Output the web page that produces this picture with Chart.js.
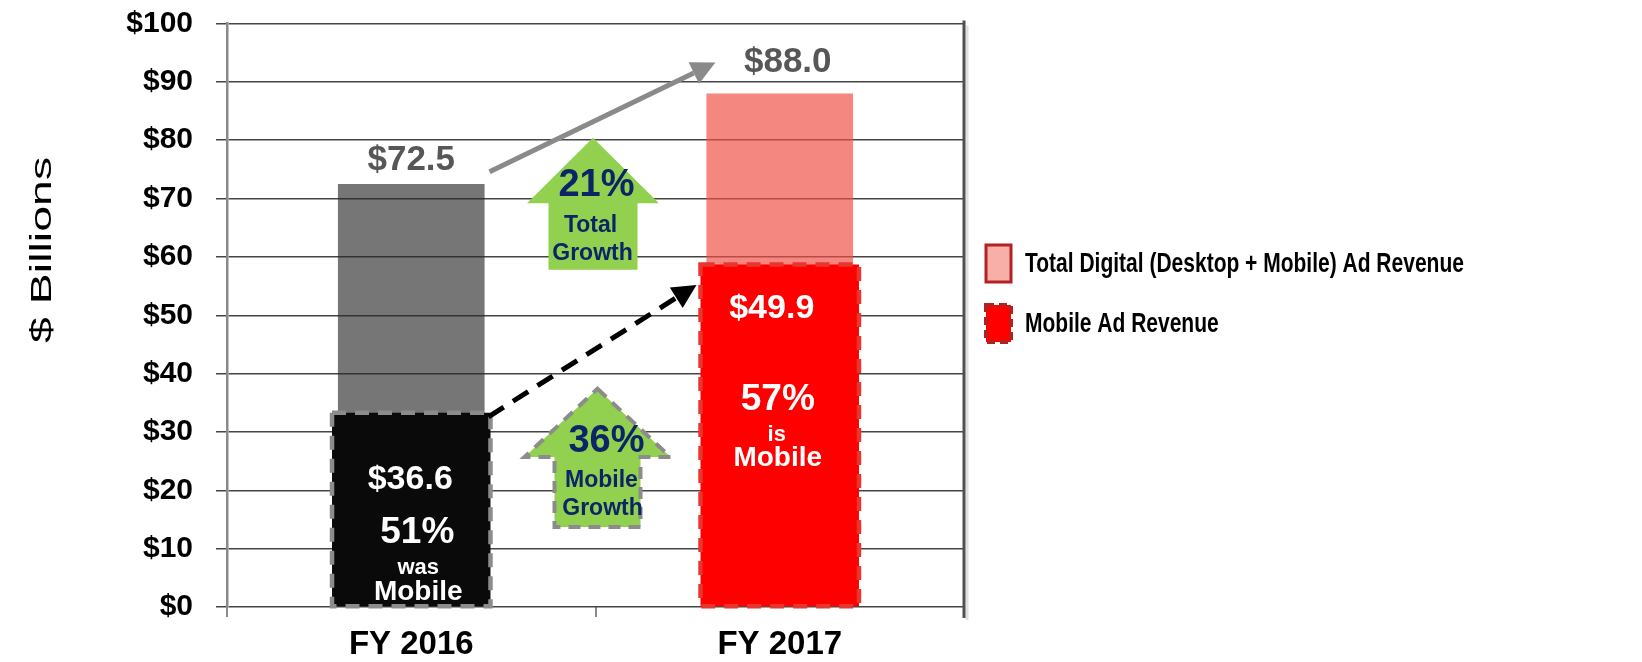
<!DOCTYPE html>
<html>
<head>
<meta charset="utf-8">
<title>Digital Ad Revenue</title>
<script src="https://cdn.jsdelivr.net/npm/chart.js@4.4.1/dist/chart.umd.min.js"></script>
<style>
html, body { margin: 0; padding: 0; background: #fff; }
#wrap { position: relative; width: 1642px; height: 662px; }
</style>
</head>
<body>
<div id="wrap"><canvas id="chart" width="1642" height="662"></canvas></div>
<script>
// values
var categories = ['FY 2016', 'FY 2017'];
var totalRevenue = [72.5, 88.0];
var mobileBoxHeight = [33.3, 58.7];   // mobile boxes as drawn in the original
var totalLabels = ['$72.5', '$88.0'];
var mobileLabels = ['$36.6', '$49.9'];
var mobileShare = ['51%', '57%'];
var shareWord = ['was', 'is'];
var growthPct = ['21%', '36%'];
var growthWord = ['Total', 'Mobile'];
var seriesNames = ['Total Digital (Desktop + Mobile) Ad Revenue', 'Mobile Ad Revenue'];

var FONT = '"Liberation Sans", Arial, Helvetica, sans-serif';
var NAVY = '#0b2566';
var GREEN = '#92d050';

var mobileFill = ['#0a0a0a', '#ff0000'];
var mobileEdge = ['#8c8c8c', '#e8352d'];
var totalFill = ['rgba(40,40,40,0.64)', 'rgba(239,80,70,0.68)'];

function text(ctx, str, x, y, size, color, weight, sx) {
	ctx.save();
	ctx.font = (weight || 'bold') + ' ' + size + 'px ' + FONT;
	ctx.fillStyle = color;
	ctx.textAlign = 'center';
	ctx.textBaseline = 'middle';
	ctx.translate(x, y);
	if (sx) ctx.scale(sx, 1);
	ctx.fillText(str, 0, 0);
	ctx.restore();
}

function upArrow(ctx, cx, tipY, neckY, bottomY, headHalf, shaftHalf) {
	ctx.beginPath();
	ctx.moveTo(cx, tipY);
	ctx.lineTo(cx + headHalf, neckY);
	ctx.lineTo(cx + shaftHalf, neckY);
	ctx.lineTo(cx + shaftHalf, bottomY);
	ctx.lineTo(cx - shaftHalf, bottomY);
	ctx.lineTo(cx - shaftHalf, neckY);
	ctx.lineTo(cx - headHalf, neckY);
	ctx.closePath();
}

function lineArrow(ctx, x0, y0, x1, y1, color, width, dash) {
	var ang = Math.atan2(y1 - y0, x1 - x0), head = 24, half = 12;
	var bx = x1 - head * Math.cos(ang), by = y1 - head * Math.sin(ang);
	ctx.save();
	ctx.strokeStyle = color;
	ctx.lineWidth = width;
	ctx.setLineDash(dash || []);
	ctx.beginPath();
	ctx.moveTo(x0, y0);
	ctx.lineTo(bx, by);
	ctx.stroke();
	ctx.setLineDash([]);
	ctx.fillStyle = color;
	ctx.beginPath();
	ctx.moveTo(x1, y1);
	ctx.lineTo(bx + half * Math.sin(ang), by - half * Math.cos(ang));
	ctx.lineTo(bx - half * Math.sin(ang), by + half * Math.cos(ang));
	ctx.closePath();
	ctx.fill();
	ctx.restore();
}

var annotations = {
	id: 'annotations',
	beforeDatasetsDraw: function (chart) {
		// right frame of the plot
		var ctx = chart.ctx, a = chart.chartArea;
		ctx.save();
		ctx.strokeStyle = 'rgba(0,0,0,0.12)';
		ctx.lineWidth = 3;
		ctx.beginPath();
		ctx.moveTo(a.right + 3, a.top + 2);
		ctx.lineTo(a.right + 3, a.bottom + 13);
		ctx.stroke();
		ctx.strokeStyle = '#505050';
		ctx.lineWidth = 3;
		ctx.beginPath();
		ctx.moveTo(a.right, a.top - 3);
		ctx.lineTo(a.right, a.bottom + 11);
		ctx.stroke();
		ctx.restore();
	},
	afterDatasetsDraw: function (chart) {
		var ctx = chart.ctx, ys = chart.scales.y, a = chart.chartArea;
		var mob = chart.getDatasetMeta(0).data;
		var tot = chart.getDatasetMeta(1).data;

		// dashed outline of the mobile boxes
		mob.forEach(function (bar, i) {
			var l = bar.x - bar.width / 2;
			ctx.save();
			ctx.setLineDash([14, 9]);
			ctx.lineWidth = 4.5;
			ctx.strokeStyle = mobileEdge[i];
			ctx.strokeRect(l, bar.y, bar.width, bar.base - bar.y);
			ctx.restore();
		});

		// totals above the bars
		var topShift = [[0, -24], [8, -31]];
		tot.forEach(function (bar, i) {
			text(ctx, totalLabels[i], bar.x + topShift[i][0], bar.y + topShift[i][1], 35, '#575757');
		});

		// texts inside the mobile boxes
		var inner = [
			{ dx: [-1, 6, 7, 7], v: [21.8, 12.7, 6.7, 2.6] },
			{ dx: [-8, -2, -3, -2], v: [51.2, 35.5, 29.5, 25.5] }
		];
		mob.forEach(function (bar, i) {
			var p = inner[i];
			text(ctx, mobileLabels[i], bar.x + p.dx[0], ys.getPixelForValue(p.v[0]), 34, '#fff');
			text(ctx, mobileShare[i], bar.x + p.dx[1], ys.getPixelForValue(p.v[1]), 37, '#fff');
			text(ctx, shareWord[i], bar.x + p.dx[2], ys.getPixelForValue(p.v[2]), 22, '#fff');
			text(ctx, 'Mobile', bar.x + p.dx[3], ys.getPixelForValue(p.v[3]), 28, '#fff');
		});

		// growth arrows between the bars
		var mid = (tot[0].x + tot[1].x) / 2;
		ctx.save();
		ctx.fillStyle = GREEN;
		upArrow(ctx, mid - 2.5, ys.getPixelForValue(80.4), ys.getPixelForValue(69.2), ys.getPixelForValue(57.8), 66, 44.5);
		ctx.fill();
		upArrow(ctx, mid + 2, ys.getPixelForValue(37.4), ys.getPixelForValue(25.7), ys.getPixelForValue(13.7), 73, 43);
		ctx.fill();
		ctx.setLineDash([12, 8]);
		ctx.lineWidth = 4;
		ctx.strokeStyle = '#8c8c8c';
		ctx.stroke();
		ctx.restore();

		text(ctx, growthPct[0], mid + 1, ys.getPixelForValue(72.3), 38, NAVY);
		text(ctx, growthWord[0], mid - 5, ys.getPixelForValue(65.3), 23, NAVY);
		text(ctx, 'Growth', mid - 3, ys.getPixelForValue(60.6), 23, NAVY);
		text(ctx, growthPct[1], mid + 11, ys.getPixelForValue(28.3), 38, NAVY);
		text(ctx, growthWord[1], mid + 6, ys.getPixelForValue(21.6), 23, NAVY);
		text(ctx, 'Growth', mid + 7, ys.getPixelForValue(16.8), 23, NAVY);

		// total and mobile trend arrows
		var g0 = tot[0].x + tot[0].width / 2, g1 = tot[1].x - tot[1].width / 2;
		lineArrow(ctx, g0 + 5, ys.getPixelForValue(74.6), g1 + 9, ys.getPixelForValue(93.3), '#8a8a8a', 5);
		var m0 = mob[0].x + mob[0].width / 2, m1 = mob[1].x - mob[1].width / 2;
		lineArrow(ctx, m0 - 2, ys.getPixelForValue(32.6), m1 - 4, ys.getPixelForValue(55.2), '#000', 5, [18, 11]);
	},
	afterDraw: function (chart) {
		var ctx = chart.ctx, a = chart.chartArea, ys = chart.scales.y;

		// axis title, stretched along its length like the original
		ctx.save();
		ctx.translate(51, ys.getPixelForValue(61.2));
		ctx.rotate(-Math.PI / 2);
		ctx.scale(1.55, 1);
		ctx.font = '30px ' + FONT;
		ctx.fillStyle = '#000';
		ctx.textAlign = 'center';
		ctx.textBaseline = 'alphabetic';
		ctx.fillText('$ Billions', 0, 0);
		ctx.restore();

		// legend
		var lx = a.right + 22;
		ctx.save();
		ctx.fillStyle = '#f8afa8';
		ctx.fillRect(lx, 245, 25, 37);
		ctx.strokeStyle = '#b22222';
		ctx.lineWidth = 3;
		ctx.strokeRect(lx, 245, 25, 37);
		ctx.fillStyle = '#ff0000';
		ctx.fillRect(lx, 305, 25, 37);
		ctx.setLineDash([8, 5]);
		ctx.lineWidth = 4;
		ctx.strokeRect(lx, 305, 25, 37);
		ctx.restore();
		[seriesNames[0], seriesNames[1]].forEach(function (name, i) {
			ctx.save();
			ctx.font = 'bold 28px ' + FONT;
			ctx.fillStyle = '#000';
			ctx.textAlign = 'left';
			ctx.textBaseline = 'middle';
			ctx.translate(lx + 39, 264 + i * 60);
			ctx.scale(0.75, 1);
			ctx.fillText(name, 0, 0);
			ctx.restore();
		});
	}
};

new Chart(document.getElementById('chart'), {
	type: 'bar',
	data: {
		labels: categories,
		datasets: [{
			label: seriesNames[1],
			data: mobileBoxHeight,
			backgroundColor: mobileFill,
			borderWidth: 0,
			grouped: false,
			barPercentage: 0.43,
			categoryPercentage: 1
		}, {
			label: seriesNames[0],
			data: totalRevenue,
			backgroundColor: totalFill,
			borderWidth: 0,
			grouped: false,
			barPercentage: 0.398,
			categoryPercentage: 1
		}]
	},
	options: {
		responsive: false,
		animation: false,
		events: [],
		layout: { padding: { top: 23.5, right: 678, bottom: 0, left: 0 } },
		plugins: {
			legend: { display: false },
			tooltip: { enabled: false }
		},
		scales: {
			x: {
				ticks: { font: { family: FONT, size: 33, weight: 'bold' }, color: '#000', padding: 8 },
				grid: { drawOnChartArea: false, offset: true, color: '#8a8a8a', lineWidth: 2, tickLength: 10 },
				border: { display: false },
				afterFit: function (s) { s.height = 55; }
			},
			y: {
				min: 0,
				max: 100,
				ticks: {
					stepSize: 10,
					callback: function (v) { return '$' + v; },
					font: { family: FONT, size: 30, weight: 'bold' },
					color: '#000',
					padding: 23
				},
				grid: { color: '#454545', lineWidth: 1.5, tickLength: 11 },
				border: { display: true, color: '#8a8a8a', width: 2.5 },
				afterFit: function (s) {
					s.width = 227;
					s.paddingTop = 0;
					s.paddingBottom = 0;
				}
			}
		}
	},
	plugins: [annotations]
});
</script>
</body>
</html>
